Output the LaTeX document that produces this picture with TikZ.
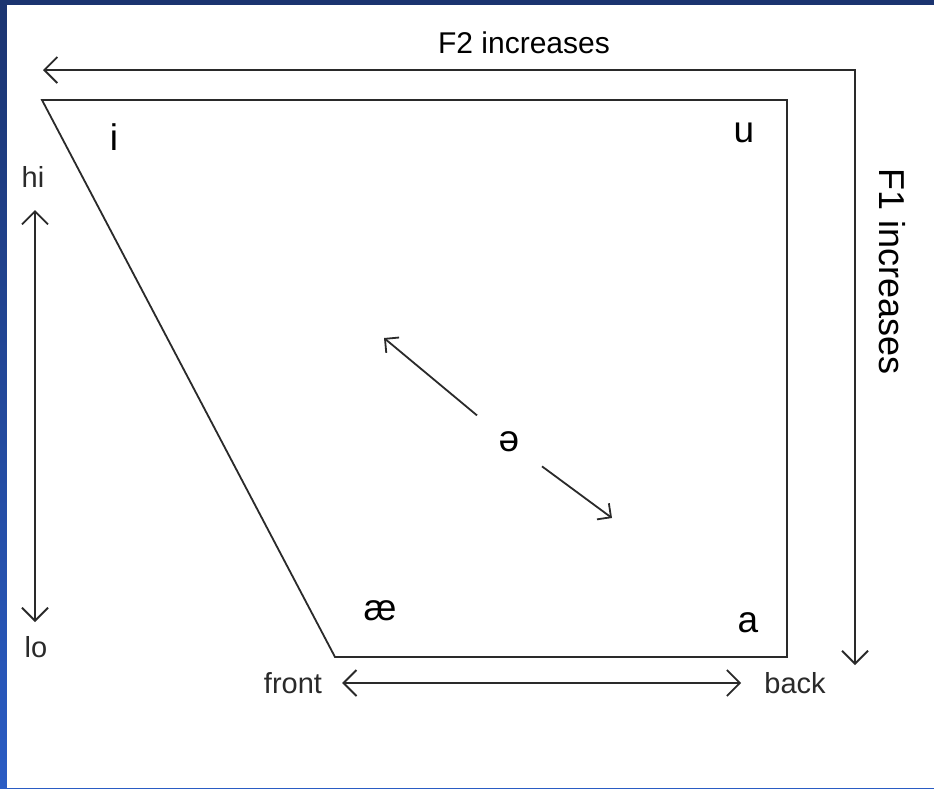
\documentclass[tikz,border=0pt]{standalone}
\usepackage{fontspec}
\setmainfont{Liberation Sans}
\usetikzlibrary{arrows.meta}
\definecolor{SlideNavy}{HTML}{1B3470}
\definecolor{SlideBlue}{HTML}{2A5CC4}
\definecolor{InkGray}{HTML}{2A2A2A}

\begin{document}
\begin{tikzpicture}[x=1pt,y=-1pt,
    small/.style={font=\fontsize{29}{31}\selectfont,text=InkGray,inner sep=0pt},
    big/.style={font=\fontsize{30}{34}\selectfont,inner sep=0pt},
    vowel/.style={font=\fontsize{37}{40}\selectfont,inner sep=0pt},
    line/.style={draw=InkGray,line width=1.8pt},
    twoway/.style={line,{Straight Barb[length=13pt,width=26pt]}-{Straight Barb[length=13pt,width=26pt]}},
    oneway/.style={line,-{Straight Barb[length=10pt,width=20pt]}}
  ]
    % slide frame
    \shade[top color=SlideNavy,bottom color=SlideBlue] (0,0) rectangle (934,788);
    \fill[white] (7,5) rectangle (934,788);

    % vowel space
    \coordinate (tl) at (42,100);
    \coordinate (tr) at (787,100);
    \coordinate (br) at (787,657);
    \coordinate (bl) at (335,657);
    \draw[line] (tl) -- (tr) -- (br) -- (bl) -- cycle;

    \foreach \v/\n/\x/\y in {i/i/114/137,u/u/744/133,æ/ae/380/611,a/a/748/623,ə/schwa/509/442}
      \node[vowel] (v\n) at (\x,\y) {\v};

    % formant axes
    \coordinate (f2) at (43,70);
    \coordinate (bend) at (855,70);
    \coordinate (f1) at (855,665);
    \draw[twoway] (f2) -- (bend) -- (f1);
    \node[big,anchor=base] (F2) at (524,53) {F2 increases};
    \node[big,font=\fontsize{36}{40}\selectfont,rotate=-90] (F1) at (892,272) {F1 increases};

    % height and backness
    \node[small] (hi) at (33,177) {hi};
    \node[small] (lo) at (36,647) {lo};
    \node[small] (front) at (293,683) {front};
    \node[small] (back) at (795,683) {back};
    \coordinate (hitop) at (35,210);
    \coordinate (lobot) at (35,622);
    \draw[twoway] (hitop) -- (lobot);
    \draw[twoway,shorten <=20pt,shorten >=23pt] (front.east) -- (back.west);

    % centralisation
    \coordinate (up) at (384,338);
    \coordinate (dn) at (612,518);
    \draw[oneway,shorten <=28pt] (vschwa) -- (up);
    \draw[oneway,shorten <=28pt] (vschwa) -- (dn);
\end{tikzpicture}
\end{document}
